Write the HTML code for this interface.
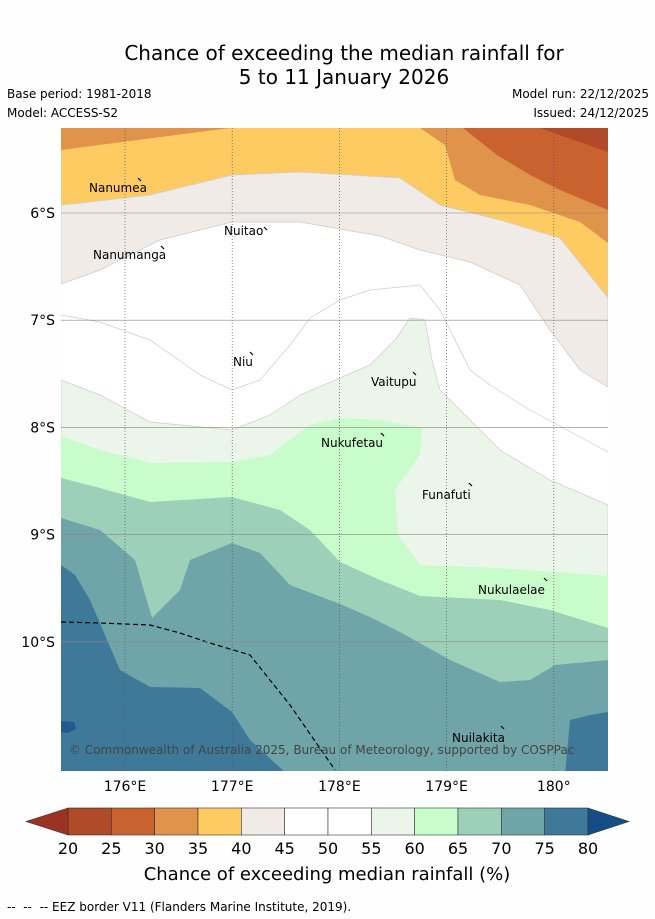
<!DOCTYPE html>
<html><head><meta charset="utf-8"><style>
body{margin:0;background:#fff;font-family:"DejaVu Sans",sans-serif;}
#root{position:relative;width:655px;height:919px;background:#fefefe;overflow:hidden}
.t{position:absolute;font-size:12px;color:#000;white-space:nowrap;font-family:"DejaVu Sans",sans-serif}
</style></head><body>
<div id="root">
<svg width="655" height="919" style="position:absolute;left:0;top:0" font-family="DejaVu Sans, sans-serif">
<defs><clipPath id="mc"><rect x="61" y="128" width="547" height="643"/></clipPath></defs>
<text x="344" y="60" font-size="20" text-anchor="middle">Chance of exceeding the median rainfall for</text>
<text x="344" y="84" font-size="20" text-anchor="middle">5 to 11 January 2026</text>
<g id="map" clip-path="url(#mc)"></g>
<g id="grid"></g>
<g id="ticks"></g>
<g id="places"></g>
<text x="69" y="754" font-size="12" fill="#444">© Commonwealth of Australia 2025, Bureau of Meteorology, supported by COSPPac</text>
<g id="cbar"></g>
<text x="327" y="880" font-size="18" text-anchor="middle">Chance of exceeding median rainfall (%)</text>
</svg>
<div class="t" style="left:7px;top:87px">Base period: 1981-2018</div>
<div class="t" style="left:7px;top:106px">Model: ACCESS-S2</div>
<div class="t" style="right:6px;top:87px">Model run: 22/12/2025</div>
<div class="t" style="right:6px;top:106px">Issued: 24/12/2025</div>
<div class="t" style="left:7px;top:900px">-- &nbsp;-- &nbsp;-- EEZ border V11 (Flanders Marine Institute, 2019).</div>
</div>
<script>
const NS="http://www.w3.org/2000/svg";
const lonTicks=[176,177,178,179,180];
const lonLabels=["176°E","177°E","178°E","179°E","180°"];
const latTicks=[6,7,8,9,10];
const latLabels=["6°S","7°S","8°S","9°S","10°S"];
const cbLevels=[20,25,30,35,40,45,50,55,60,65,70,75,80];
const cbColors=["#b04a29","#c9622f","#e0934a","#fecb63","#f0ebe6","#ffffff","#ffffff","#ebf5ea","#c8fccb","#9dd0b8","#6fa4a8","#3f799a"];
function X(lon){return 125+(lon-176)*107.2;}
function Y(lat){return 213+(lat-6)*107.2;}
const b25=[[540,128],[608,152]];
const b30=[[463,128],[497,155],[530,175],[560,190],[608,210]];
const b35L=[[61,150],[100,144],[160,133],[230,128]];
const b35R=[[420,128],[445,145],[455,180],[480,195],[530,205],[580,222],[608,243]];
const b40=[[61,205],[90,202],[150,195],[232,175],[300,172],[400,178],[440,205],[500,220],[560,238],[608,298]];
const b45=[[61,284],[100,270],[160,240],[232,222],[300,222],[380,236],[420,250],[470,262],[520,285],[550,330],[580,370],[608,387]];
const b50=[[61,315],[100,322],[150,340],[200,375],[232,390],[260,380],[290,345],[310,318],[340,300],[370,290],[420,285],[440,310],[470,370],[490,385],[530,410],[608,452]];
const b55=[[61,380],[100,395],[150,422],[232,430],[270,415],[300,395],[340,378],[370,365],[395,340],[410,318],[425,320],[432,360],[440,390],[470,420],[500,450],[550,480],[608,505]];
const b60=[[61,436],[100,450],[150,463],[232,462],[270,455],[310,425],[340,418],[380,420],[422,428],[420,455],[395,490],[398,535],[420,565],[500,568],[608,576]];
const b65=[[61,478],[100,488],[150,502],[232,497],[280,510],[310,530],[340,562],[380,580],[420,596],[500,600],[550,610],[608,628]];
const b70=[[61,518],[100,530],[135,560],[152,618],[180,590],[190,560],[232,543],[260,553],[290,585],[340,604],[370,617],[400,632],[450,660],[500,682],[530,680],[555,665],[608,660]];
const b75=[[61,565],[75,575],[90,600],[120,670],[150,687],[200,688],[232,712],[250,740],[288,775]];
const b75R=[[565,775],[570,720],[590,715],[608,712]];
const eez=[[61,622],[100,623],[150,625],[180,633],[210,643],[250,655],[290,705],[335,770]];
function pts(a){return a.map(p=>p.join(",")).join(" ");}
const map=document.getElementById("map");
function poly(points,fill,name,stroke){
  const e=document.createElementNS(NS,"polygon");
  e.setAttribute("points",pts(points));e.setAttribute("fill",fill);
  if(stroke){e.setAttribute("stroke",stroke);e.setAttribute("stroke-width","0.7");}
  
  
  map.appendChild(e);
}
function above(b){return [[b[0][0],120],...b,[b[b.length-1][0],120]];}
function below(b){return [[b[0][0],780],...b,[b[b.length-1][0],780]];}
const bg=document.createElementNS(NS,"rect");
bg.setAttribute("x",61);bg.setAttribute("y",128);bg.setAttribute("width",547);bg.setAttribute("height",643);bg.setAttribute("fill","#ffffff");


map.appendChild(bg);
poly(above(b45),cbColors[4],"band-40-45","#ccc");
poly(above(b40),cbColors[3],"band-35-40","#ccc");
poly([[61,120],...b35L,[230,120]],cbColors[2],"band-30-35-left");
poly([[61,120],[61,150],[230,128],[420,128],[420,120]],cbColors[2],"band-30-35-top");
poly([[420,120],...b35R,[608,120]],cbColors[2],"band-30-35-right");
poly([[463,120],...b30,[608,120]],cbColors[1],"band-25-30");
poly([[540,120],...b25,[608,120]],cbColors[0],"band-20-25");
const l50=document.createElementNS(NS,"polyline");
l50.setAttribute("points",pts(b50));l50.setAttribute("fill","none");l50.setAttribute("stroke","#ccc");l50.setAttribute("stroke-width","0.7");


map.appendChild(l50);
poly(below(b55),cbColors[7],"band-55-60","#ccc");
poly(below(b60),cbColors[8],"band-60-65");
poly(below(b65),cbColors[9],"band-65-70");
poly(below(b70),cbColors[10],"band-70-75");
poly(below(b75),cbColors[11],"band-75-80-west");
poly([[565,780],...b75R,[608,780]],cbColors[11],"band-75-80-east");
poly([[61,721],[74,722],[76,729],[68,733],[61,732]],"#1f5b8c","band-80-patch");
const ez=document.createElementNS(NS,"polyline");
ez.setAttribute("points",pts(eez));ez.setAttribute("fill","none");ez.setAttribute("stroke","#000");ez.setAttribute("stroke-width","1.2");ez.setAttribute("stroke-dasharray","5,3");


map.appendChild(ez);
const grid=document.getElementById("grid"),ticks=document.getElementById("ticks");
lonTicks.forEach((v,i)=>{
  const l=document.createElementNS(NS,"line");
  l.setAttribute("x1",X(v));l.setAttribute("x2",X(v));l.setAttribute("y1",128);l.setAttribute("y2",771);
  l.setAttribute("stroke","#555");l.setAttribute("stroke-width","0.7");l.setAttribute("stroke-dasharray","1,2");
  
  
  grid.appendChild(l);
  const t=document.createElementNS(NS,"text");
  t.setAttribute("x",X(v));t.setAttribute("y",791);t.setAttribute("text-anchor","middle");t.setAttribute("font-size","14");
  t.textContent=lonLabels[i];
  
  
  ticks.appendChild(t);
});
latTicks.forEach((v,i)=>{
  const l=document.createElementNS(NS,"line");
  l.setAttribute("x1",61);l.setAttribute("x2",608);l.setAttribute("y1",Y(v));l.setAttribute("y2",Y(v));
  l.setAttribute("stroke","#888");l.setAttribute("stroke-width","0.6");
  
  
  grid.appendChild(l);
  const t=document.createElementNS(NS,"text");
  t.setAttribute("x",55);t.setAttribute("y",Y(v)+5);t.setAttribute("text-anchor","end");t.setAttribute("font-size","14");
  t.textContent=latLabels[i];
  
  
  ticks.appendChild(t);
});
const placeNames=["Nanumea","Nanumanga","Nuitao","Niu","Vaitupu","Nukufetau","Funafuti","Nukulaelae","Nuilakita"];
const placeX=[89,93,224,233,371,321,422,478,452];
const placeY=[192,259,235,366,386,447,499,594,742];
const markX=[138,161,264,250,413,381,469,544,501];
const markY=[178,246,227,352,372,433,483,578,726];
const places=document.getElementById("places");
placeNames.forEach((n,i)=>{
  const t=document.createElementNS(NS,"text");
  t.setAttribute("x",placeX[i]);t.setAttribute("y",placeY[i]);t.setAttribute("font-size","12");
  t.textContent=n;
  
  
  places.appendChild(t);
  const m=document.createElementNS(NS,"line");
  m.setAttribute("x1",markX[i]);m.setAttribute("y1",markY[i]);m.setAttribute("x2",markX[i]+3);m.setAttribute("y2",markY[i]+3);
  m.setAttribute("stroke","#000");m.setAttribute("stroke-width","1.2");
  
  
  places.appendChild(m);
});
const cb=document.getElementById("cbar");
const cx0=68,cx1=588,cy=808,ch=27,cw=(cx1-cx0)/cbColors.length;
cbColors.forEach((c,i)=>{
  const r=document.createElementNS(NS,"rect");
  r.setAttribute("x",cx0+i*cw);r.setAttribute("y",cy);r.setAttribute("width",cw);r.setAttribute("height",ch);
  r.setAttribute("fill",c);r.setAttribute("stroke","#333");r.setAttribute("stroke-width","0.6");
  
  
  cb.appendChild(r);
});
[["#9a3322",`${cx0},${cy} ${cx0},${cy+ch} 26,${cy+ch/2}`],["#154e86",`${cx1},${cy} ${cx1},${cy+ch} 629,${cy+ch/2}`]].forEach(([c,p],i)=>{
  const e=document.createElementNS(NS,"polygon");
  e.setAttribute("points",p);e.setAttribute("fill",c);e.setAttribute("stroke","#333");e.setAttribute("stroke-width","0.6");
  
  
  cb.appendChild(e);
});
cbLevels.forEach((v,i)=>{
  const t=document.createElementNS(NS,"text");
  t.setAttribute("x",cx0+i*cw);t.setAttribute("y",854);t.setAttribute("text-anchor","middle");t.setAttribute("font-size","16");
  t.textContent=v;
  
  
  cb.appendChild(t);
});
</script>
</body></html>
